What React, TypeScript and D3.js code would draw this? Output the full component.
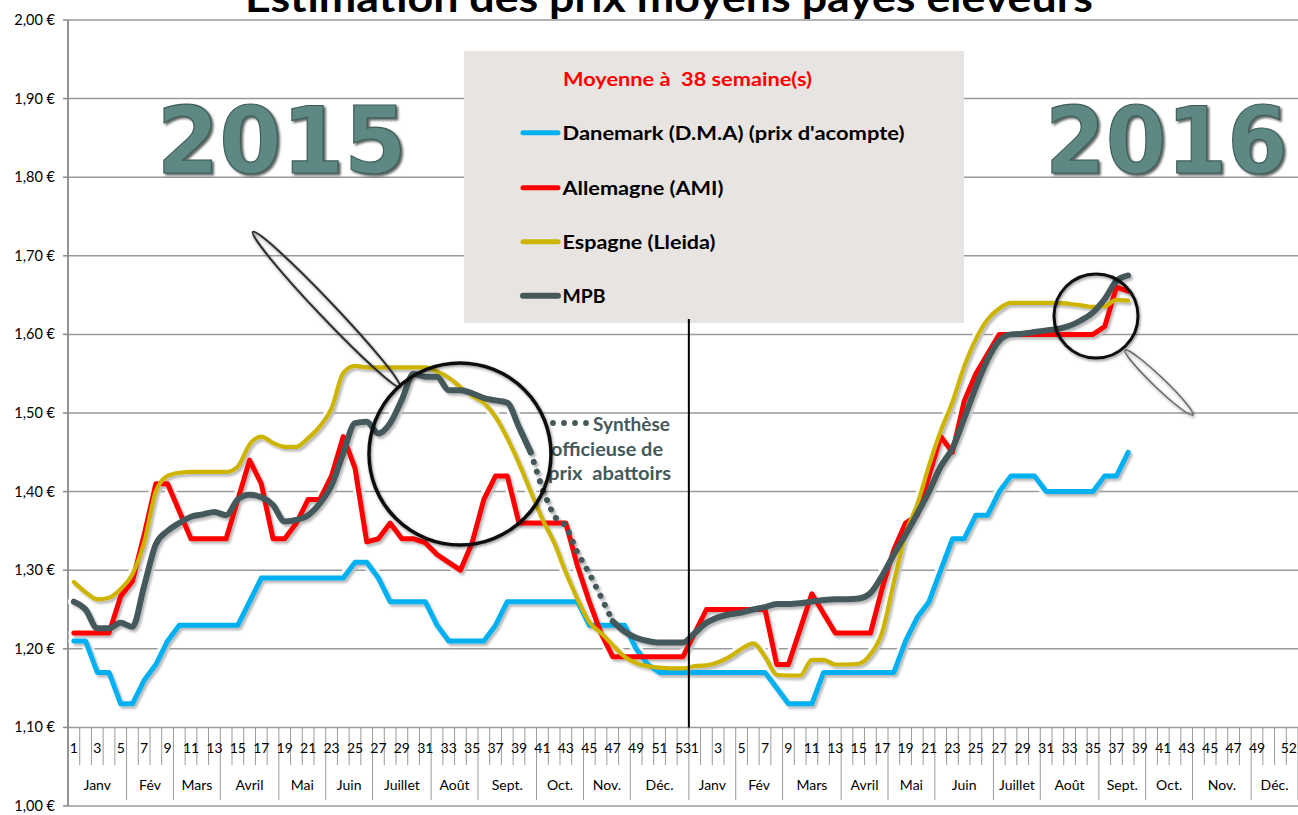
import React from 'react';
import * as d3 from 'd3';

// ---------- DATA ----------
const MONTHS = ['Janv', 'Fév', 'Mars', 'Avril', 'Mai', 'Juin', 'Juillet', 'Août', 'Sept.', 'Oct.', 'Nov.', 'Déc.'];
const MONTH_WEEKS_2015 = [5, 4, 4, 5, 4, 4, 5, 4, 5, 4, 4, 5];
const MONTH_WEEKS_2016 = [4, 4, 5, 4, 4, 5, 4, 5, 4, 4, 5, 4];
const WEEK_COUNT_2015 = 53;
const WEEK_COUNT_2016 = 52;
const WEEK_LABELS_2015 = [1, 3, 5, 7, 9, 11, 13, 15, 17, 19, 21, 23, 25, 27, 29, 31, 33, 35, 37, 39, 41, 43, 45, 47, 49, 51, 53];
const WEEK_LABELS_2016 = [1, 3, 5, 7, 9, 11, 13, 15, 17, 19, 21, 23, 25, 27, 29, 31, 33, 35, 37, 39, 41, 43, 45, 47, 49, 52];
const Y_TICKS = [1.0, 1.1, 1.2, 1.3, 1.4, 1.5, 1.6, 1.7, 1.8, 1.9, 2.0];

const DANEMARK_2015 = [1.21, 1.21, 1.17, 1.17, 1.13, 1.13, 1.16, 1.18, 1.21, 1.23, 1.23, 1.23, 1.23, 1.23, 1.23, 1.26, 1.29, 1.29, 1.29, 1.29, 1.29, 1.29, 1.29, 1.29, 1.31, 1.31, 1.29, 1.26, 1.26, 1.26, 1.26, 1.23, 1.21, 1.21, 1.21, 1.21, 1.23, 1.26, 1.26, 1.26, 1.26, 1.26, 1.26, 1.26, 1.23, 1.23, 1.23, 1.23, 1.20, 1.18, 1.17, 1.17, 1.17];
const DANEMARK_2016 = [1.17, 1.17, 1.17, 1.17, 1.17, 1.17, 1.17, 1.15, 1.13, 1.13, 1.13, 1.17, 1.17, 1.17, 1.17, 1.17, 1.17, 1.17, 1.21, 1.24, 1.26, 1.30, 1.34, 1.34, 1.37, 1.37, 1.40, 1.42, 1.42, 1.42, 1.40, 1.40, 1.40, 1.40, 1.40, 1.42, 1.42, 1.45];

const ALLEMAGNE_2015 = [1.22, 1.22, 1.22, 1.22, 1.267, 1.286, 1.345, 1.41, 1.41, 1.375, 1.34, 1.34, 1.34, 1.34, 1.39, 1.44, 1.41, 1.34, 1.34, 1.36, 1.39, 1.39, 1.42, 1.47, 1.43, 1.336, 1.34, 1.36, 1.34, 1.34, 1.335, 1.32, 1.31, 1.30, 1.335, 1.39, 1.42, 1.42, 1.36, 1.36, 1.36, 1.36, 1.36, 1.305, 1.26, 1.22, 1.19, 1.19, 1.19, 1.19, 1.19, 1.19, 1.19];
const ALLEMAGNE_2016 = [1.22, 1.25, 1.25, 1.25, 1.25, 1.25, 1.25, 1.18, 1.18, 1.225, 1.27, 1.245, 1.22, 1.22, 1.22, 1.22, 1.277, 1.326, 1.36, 1.37, 1.42, 1.47, 1.45, 1.515, 1.55, 1.575, 1.60, 1.60, 1.60, 1.60, 1.60, 1.60, 1.60, 1.60, 1.60, 1.61, 1.66, 1.655];

const ESPAGNE_2015 = [1.285, 1.272, 1.263, 1.265, 1.276, 1.295, 1.335, 1.40, 1.42, 1.424, 1.425, 1.425, 1.425, 1.425, 1.432, 1.46, 1.47, 1.462, 1.457, 1.457, 1.468, 1.483, 1.506, 1.551, 1.56, 1.558, 1.558, 1.558, 1.558, 1.558, 1.558, 1.553, 1.545, 1.533, 1.522, 1.513, 1.495, 1.468, 1.436, 1.40, 1.365, 1.335, 1.297, 1.263, 1.234, 1.22, 1.205, 1.19, 1.182, 1.178, 1.176, 1.175, 1.175];
const ESPAGNE_2016 = [1.178, 1.179, 1.183, 1.19, 1.20, 1.207, 1.19, 1.167, 1.166, 1.166, 1.186, 1.186, 1.18, 1.18, 1.181, 1.193, 1.221, 1.285, 1.346, 1.384, 1.433, 1.477, 1.514, 1.559, 1.594, 1.619, 1.633, 1.64, 1.64, 1.64, 1.64, 1.64, 1.639, 1.637, 1.635, 1.636, 1.644, 1.643];

const MPB_2015 = [1.26, 1.25, 1.226, 1.226, 1.233, 1.228, 1.28, 1.333, 1.35, 1.36, 1.368, 1.371, 1.374, 1.37, 1.39, 1.396, 1.393, 1.383, 1.362, 1.364, 1.37, 1.385, 1.408, 1.449, 1.487, 1.489, 1.474, 1.487, 1.517, 1.55, 1.546, 1.546, 1.529, 1.529, 1.525, 1.519, 1.516, 1.513, 1.482, 1.45, 1.403, 1.368, 1.357, 1.322, 1.296, 1.266, 1.235, 1.222, 1.214, 1.21, 1.208, 1.208, 1.208];
const MPB_2016 = [1.22, 1.233, 1.24, 1.244, 1.246, 1.25, 1.253, 1.257, 1.257, 1.258, 1.26, 1.262, 1.263, 1.263, 1.264, 1.271, 1.293, 1.32, 1.345, 1.372, 1.40, 1.432, 1.455, 1.493, 1.533, 1.568, 1.592, 1.60, 1.601, 1.603, 1.605, 1.607, 1.611, 1.618, 1.628, 1.645, 1.668, 1.675];
// MPB weeks 40..47 of 2015 are the unofficial synthesis (dotted)
const MPB_DOTTED_FROM_WEEK_2015 = 40;
const MPB_DOTTED_TO_WEEK_2015 = 47;

const LEGEND_TITLE = 'Moyenne à  38 semaine(s)';
const SERIES_NAMES = ['Danemark (D.M.A) (prix d\'acompte)', 'Allemagne (AMI)', 'Espagne (Lleida)', 'MPB'];
const COLORS = ['#00B0F0', '#FF0000', '#CDB400', '#45595B'];

const FONT = "Lato, 'Open Sans', 'Liberation Sans', sans-serif";

export default function App() {
  const W = 1298;
  const H = 815;
  const left = 68;
  const right = 1298;
  const nCat = WEEK_COUNT_2015 + WEEK_COUNT_2016;

  const y = d3.scaleLinear().domain([1.0, 2.0]).range([806, 20]);
  const x = d3.scaleBand<number>().domain(d3.range(nCat)).range([left, right]).paddingInner(0).paddingOuter(0);
  const bw = x.bandwidth();
  const cx = (i: number) => (x(i) as number) + bw / 2;
  const axisY = y(1.1);

  const fmt = (v: number) => d3.format('.2f')(v).replace('.', ',') + ' €';

  const danemark = [...DANEMARK_2015, ...DANEMARK_2016];
  const allemagne = [...ALLEMAGNE_2015, ...ALLEMAGNE_2016];
  const espagne = [...ESPAGNE_2015, ...ESPAGNE_2016];
  const mpb = [...MPB_2015, ...MPB_2016];

  const seg = (vals: number[], s: number, e: number, curve: d3.CurveFactory) =>
    d3.line<[number, number]>()
      .x((p) => cx(p[0]))
      .y((p) => y(p[1]))
      .curve(curve)(vals.slice(s, e + 1).map((v, k) => [s + k, v] as [number, number])) || '';

  const dotS = MPB_DOTTED_FROM_WEEK_2015 - 1;
  const dotE = MPB_DOTTED_TO_WEEK_2015 - 1;

  const solidPaths = [
    { d: seg(danemark, 0, danemark.length - 1, d3.curveLinear), c: COLORS[0], w: 5 },
    { d: seg(allemagne, 0, allemagne.length - 1, d3.curveLinear), c: COLORS[1], w: 5 },
    { d: seg(espagne, 0, espagne.length - 1, d3.curveMonotoneX), c: COLORS[2], w: 4.2 },
    { d: seg(mpb, 0, dotS, d3.curveMonotoneX), c: COLORS[3], w: 6 },
    { d: seg(mpb, dotE, mpb.length - 1, d3.curveMonotoneX), c: COLORS[3], w: 6 },
  ];
  const dottedPath = seg(mpb, dotS, dotE, d3.curveLinear);

  // month groups
  const groups: { name: string; s: number; e: number }[] = [];
  let idx = 0;
  MONTH_WEEKS_2015.forEach((n, k) => { groups.push({ name: MONTHS[k], s: idx, e: idx + n }); idx += n; });
  MONTH_WEEKS_2016.forEach((n, k) => { groups.push({ name: MONTHS[k], s: idx, e: idx + n }); idx += n; });
  const monthBounds = new Set(groups.map((g) => g.e));

  const boundX = (k: number) => left + k * bw;

  const weekLabels: { i: number; t: string }[] = [
    ...WEEK_LABELS_2015.map((w) => ({ i: w - 1, t: String(w) })),
    ...WEEK_LABELS_2016.map((w) => ({ i: WEEK_COUNT_2015 + w - 1, t: String(w) })),
  ];

  const legendY = [132.7, 187.7, 241.7, 295.7];
  const legendW = [342, 161, 153, 43];

  return (
    <svg width={W} height={H} style={{ position: 'absolute', left: 0, top: 0, display: 'block', background: '#fff' }}>
      <defs>
        <filter id="lineShadow" x="-5%" y="-5%" width="110%" height="115%">
          <feDropShadow dx="2" dy="2.5" stdDeviation="1.3" floodColor="#000" floodOpacity="0.28" />
        </filter>
        <filter id="yearShadow" x="-5%" y="-10%" width="115%" height="130%">
          <feDropShadow dx="2" dy="2" stdDeviation="1" floodColor="#25302f" floodOpacity="0.75" />
        </filter>
        <filter id="lensShadow" x="-20%" y="-20%" width="140%" height="140%">
          <feDropShadow dx="1" dy="1.5" stdDeviation="1.6" floodColor="#000" floodOpacity="0.45" />
        </filter>
      </defs>
      <rect x={0} y={0} width={W} height={H} fill="#fff" />

      {/* gridlines & y axis */}
      {Y_TICKS.map((t) => (
        <g key={t}>
          <line x1={left} x2={right} y1={y(t)} y2={y(t)} stroke="#9a9a9a" strokeWidth={1.5} />
          <line x1={63} x2={left} y1={y(t)} y2={y(t)} stroke="#8a8a8a" strokeWidth={1.5} />
          <text x={55} y={y(t) + 5} textAnchor="end" fontFamily={FONT} fontSize={14.5} fill="#000">{fmt(t)}</text>
        </g>
      ))}
      <line x1={left} x2={left} y1={y(2.0)} y2={y(1.0)} stroke="#8a8a8a" strokeWidth={1.8} />

      {/* category axis */}
      {d3.range(1, nCat + 1).map((k) => (
        <line key={'b' + k} x1={boundX(k)} x2={boundX(k)} y1={axisY} y2={monthBounds.has(k) ? 800 : 765}
          stroke="#9a9a9a" strokeWidth={1} />
      ))}
      {weekLabels.map((l, k) => {
        const last = k === weekLabels.length - 1;
        return (
          <text key={'w' + k} x={last ? 1297 : cx(l.i)} y={753} textAnchor={last ? 'end' : 'middle'} fontFamily={FONT} fontSize={14} fill="#000">{l.t}</text>
        );
      })}
      {groups.map((g, k) => (
        <text key={'m' + k} x={(boundX(g.s) + boundX(g.e)) / 2} y={790} textAnchor="middle" fontFamily={FONT} fontSize={14} fill="#000">{g.name}</text>
      ))}

      {/* legend box */}
      <rect x={464} y={51} width={500} height={272} fill="#E7E4E1" />
      <text x={563} y={85.5} fontFamily={FONT} fontWeight="bold" fontSize={19} fill="#FF0000" textLength={249} lengthAdjust="spacingAndGlyphs" style={{ whiteSpace: 'pre' }}>{LEGEND_TITLE}</text>
      {SERIES_NAMES.map((name, k) => (
        <g key={name}>
          <line x1={523} x2={558} y1={legendY[k]} y2={legendY[k]} stroke={COLORS[k]} strokeWidth={k === 3 ? 6 : 5} strokeLinecap="round" />
          <text x={562.5} y={legendY[k] + 7.3} fontFamily={FONT} fontWeight="bold" fontSize={19} fill="#000" textLength={legendW[k]} lengthAdjust="spacingAndGlyphs">{name}</text>
        </g>
      ))}

      {/* years */}
      <g filter="url(#yearShadow)">
        <text x={281.7} y={173} textAnchor="middle" fontFamily="'DejaVu Sans', Verdana, sans-serif" fontWeight="bold" fontSize={92}
          fill="#5d8883" stroke="#3f5c58" strokeWidth={1.2} textLength={250} lengthAdjust="spacingAndGlyphs">2015</text>
        <text x={1166.5} y={173} textAnchor="middle" fontFamily="'DejaVu Sans', Verdana, sans-serif" fontWeight="bold" fontSize={92}
          fill="#5d8883" stroke="#3f5c58" strokeWidth={1.2} textLength={243} lengthAdjust="spacingAndGlyphs">2016</text>
      </g>

      {/* series halos */}
      {solidPaths.map((p, k) => (
        <path key={'h' + k} d={p.d} fill="none" stroke="#fff" strokeWidth={p.w + 6} strokeLinejoin="round" strokeLinecap="round" opacity={0.9} />
      ))}
      {/* series */}
      <g filter="url(#lineShadow)">
        {solidPaths.map((p, k) => (
          <path key={'s' + k} d={p.d} fill="none" stroke={p.c} strokeWidth={p.w} strokeLinejoin="round" strokeLinecap="round" />
        ))}
        <path d={dottedPath} fill="none" stroke={COLORS[3]} strokeWidth={6} strokeLinecap="round" strokeDasharray="0.1 10" />
      </g>

      {/* year separator */}
      <line x1={boundX(WEEK_COUNT_2015)} x2={boundX(WEEK_COUNT_2015)} y1={319} y2={axisY} stroke="#000" strokeWidth={2} />

      {/* synthèse annotation */}
      {[553, 564, 575, 586].map((dx) => (
        <circle key={dx} cx={dx} cy={423} r={2.9} fill={COLORS[3]} />
      ))}
      <g fontFamily={FONT} fontWeight="bold" fontSize={18} fill="#45595B">
        <text x={593} y={431} textLength={77} lengthAdjust="spacingAndGlyphs">Synthèse</text>
        <text x={551} y={455.5} textLength={112} lengthAdjust="spacingAndGlyphs">officieuse de</text>
        <text x={548} y={480} textLength={123} lengthAdjust="spacingAndGlyphs" style={{ whiteSpace: 'pre' }}>prix  abattoirs</text>
      </g>

      {/* magnifier lenses */}
      <g filter="url(#lensShadow)">
        <ellipse cx={326.5} cy={309.5} rx={107} ry={8} transform="rotate(46.5 326.5 309.5)" fill="none" stroke="#2e2e2e" strokeWidth={2} />
        <circle cx={460} cy={454} r={91} fill="none" stroke="#111" strokeWidth={3.5} />
        <ellipse cx={1159} cy={382.5} rx={47} ry={5.5} transform="rotate(43.7 1159 382.5)" fill="none" stroke="#666" strokeWidth={1.5} />
        <circle cx={1096} cy={316} r={42} fill="none" stroke="#111" strokeWidth={3} />
      </g>

      {/* title */}
      <text x={669} y={12} textAnchor="middle" fontFamily={FONT} fontWeight="bold" fontSize={40} fill="#000" textLength={848} lengthAdjust="spacingAndGlyphs">Estimation des prix moyens payés éleveurs</text>
    </svg>
  );
}
